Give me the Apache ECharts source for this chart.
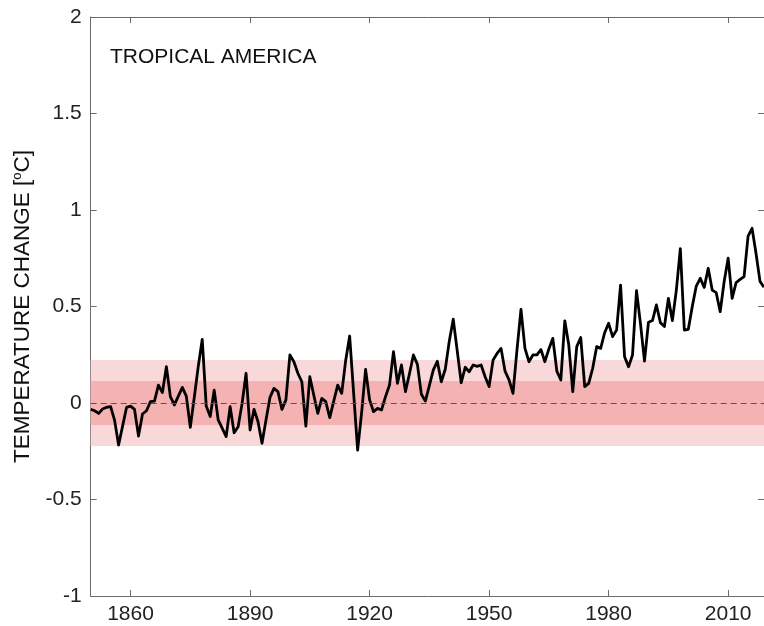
<!DOCTYPE html>
<html>
<head>
<meta charset="utf-8">
<script src="https://cdn.jsdelivr.net/npm/echarts@6/dist/echarts.min.js"></script>
<style>
html,body{margin:0;padding:0;background:#fff;}
#chart{width:764px;height:626px;}
</style>
</head>
<body>
<div id="chart"></div>
<script>
// ---- data ----
const titleText = 'TROPICAL AMERICA';
const startYear = 1850;
// annual temperature change [°C], 1850 .. 2019
const anomaly = [
  -0.033,-0.040,-0.054,-0.031,-0.022,-0.019,-0.090,-0.218,-0.120,-0.023, // 1850s
  -0.016,-0.033,-0.171,-0.057,-0.040, 0.007, 0.010, 0.093, 0.054, 0.188, // 1860s
   0.033,-0.010, 0.036, 0.081, 0.036,-0.126, 0.030, 0.190, 0.330,-0.016, // 1870s
  -0.070, 0.067,-0.088,-0.130,-0.174,-0.019,-0.154,-0.123,-0.002, 0.154, // 1880s
  -0.140,-0.033,-0.097,-0.209,-0.088, 0.029, 0.076, 0.059,-0.033, 0.016, // 1890s
   0.249, 0.214, 0.154, 0.110,-0.120, 0.136, 0.040,-0.054, 0.024, 0.007, // 1900s
  -0.076, 0.010, 0.093, 0.050, 0.220, 0.347, 0.050,-0.244,-0.050, 0.174, // 1910s
   0.016,-0.045,-0.028,-0.036, 0.033, 0.093, 0.266, 0.102, 0.197, 0.059, // 1920s
   0.150, 0.249, 0.200, 0.045, 0.010, 0.090, 0.172, 0.216, 0.110, 0.175, // 1930s
   0.320, 0.434, 0.270, 0.105, 0.185, 0.162, 0.197, 0.190, 0.197, 0.136, // 1940s
   0.085, 0.223, 0.257, 0.283, 0.165, 0.120, 0.050, 0.275, 0.485, 0.283, // 1950s
   0.214, 0.249, 0.249, 0.277, 0.214, 0.280, 0.335, 0.165, 0.119, 0.426, // 1960s
   0.300, 0.059, 0.292, 0.339, 0.085, 0.102, 0.180, 0.292, 0.283, 0.364, // 1970s
   0.413, 0.344, 0.378, 0.611, 0.240, 0.188, 0.249, 0.582, 0.410, 0.217, // 1980s
   0.418, 0.427, 0.508, 0.416, 0.396, 0.542, 0.427, 0.585, 0.800, 0.378, // 1990s
   0.382, 0.500, 0.606, 0.646, 0.599, 0.698, 0.585, 0.572, 0.473, 0.629, // 2000s
   0.750, 0.542, 0.624, 0.640, 0.655, 0.865, 0.905, 0.775, 0.630, 0.600  // 2010s
];
const xTicks = [1860, 1890, 1920, 1950, 1980, 2010];
const yTicks = [-1, -0.5, 0, 0.5, 1, 1.5, 2];
const outerBand = [-0.223, 0.223];
const innerBand = [-0.114, 0.114];

// ---- chart ----
const years = anomaly.map((_, i) => startYear + i);
const lineData = years.map((y, i) => [y, anomaly[i]]);
const FONT = '"Liberation Sans", Arial, Helvetica, sans-serif';
const AX = '#6b6b6b';

const chart = echarts.init(document.getElementById('chart'), null, {renderer: 'canvas'});
const xCommon = {
  type: 'value', min: 1850, max: 2019,
  axisLine: {show: true, onZero: false, lineStyle: {color: AX, width: 1}},
  axisTick: {show: true, inside: true, length: 6, customValues: xTicks, lineStyle: {color: AX}},
  splitLine: {show: false}
};
const yCommon = {
  type: 'value', min: yTicks[0], max: yTicks[yTicks.length - 1], interval: 0.5,
  axisLine: {show: true, onZero: false, lineStyle: {color: AX, width: 1}},
  axisTick: {show: true, inside: true, length: 6, lineStyle: {color: AX}},
  splitLine: {show: false}
};
chart.setOption({
  animation: false,
  backgroundColor: '#fff',
  grid: {left: 90.7, top: 17, width: 678, height: 579, containLabel: false},
  title: {
    text: titleText, left: 110, top: 47, padding: 0,
    textStyle: {fontFamily: FONT, fontSize: 21, fontWeight: 'normal', color: '#111'}
  },
  xAxis: [
    Object.assign({}, xCommon, {
      position: 'bottom',
      axisLabel: {show: true, customValues: xTicks, margin: 8, color: '#222', fontFamily: FONT, fontSize: 21,
        formatter: v => String(v)}
    }),
    Object.assign({}, xCommon, {position: 'top', axisLabel: {show: false}})
  ],
  yAxis: [
    Object.assign({}, yCommon, {
      position: 'left',
      name: 'TEMPERATURE CHANGE [{sup|o}C]',
      nameLocation: 'middle', nameGap: 45, nameRotate: 90,
      nameTextStyle: {fontFamily: FONT, fontSize: 22.5, color: '#111', lineHeight: 24,
        rich: {sup: {fontFamily: FONT, fontSize: 13, color: '#111', verticalAlign: 'top', lineHeight: 24, padding: [0, 0, 9, 0]}}},
      axisLabel: {show: true, margin: 9, color: '#222', fontFamily: FONT, fontSize: 21,
        formatter: v => String(v)}
    }),
    Object.assign({}, yCommon, {position: 'right', axisLabel: {show: false}})
  ],
  series: [
    {
      type: 'line', data: [], z: 1, silent: true,
      markArea: {
        silent: true,
        data: [
          [{yAxis: outerBand[0], itemStyle: {color: 'rgb(249,216,217)'}}, {yAxis: outerBand[1]}],
          [{yAxis: innerBand[0], itemStyle: {color: 'rgb(245,178,179)'}}, {yAxis: innerBand[1]}]
        ]
      },
      markLine: {
        silent: true, symbol: ['none', 'none'], label: {show: false},
        lineStyle: {color: '#555', width: 1, type: [6, 4]},
        data: [{yAxis: 0}]
      }
    },
    {
      type: 'line', data: lineData, z: 3, showSymbol: false, symbol: 'none',
      lineStyle: {color: '#000', width: 2.8, join: 'round'},
      clip: true
    }
  ]
});
</script>
</body>
</html>
